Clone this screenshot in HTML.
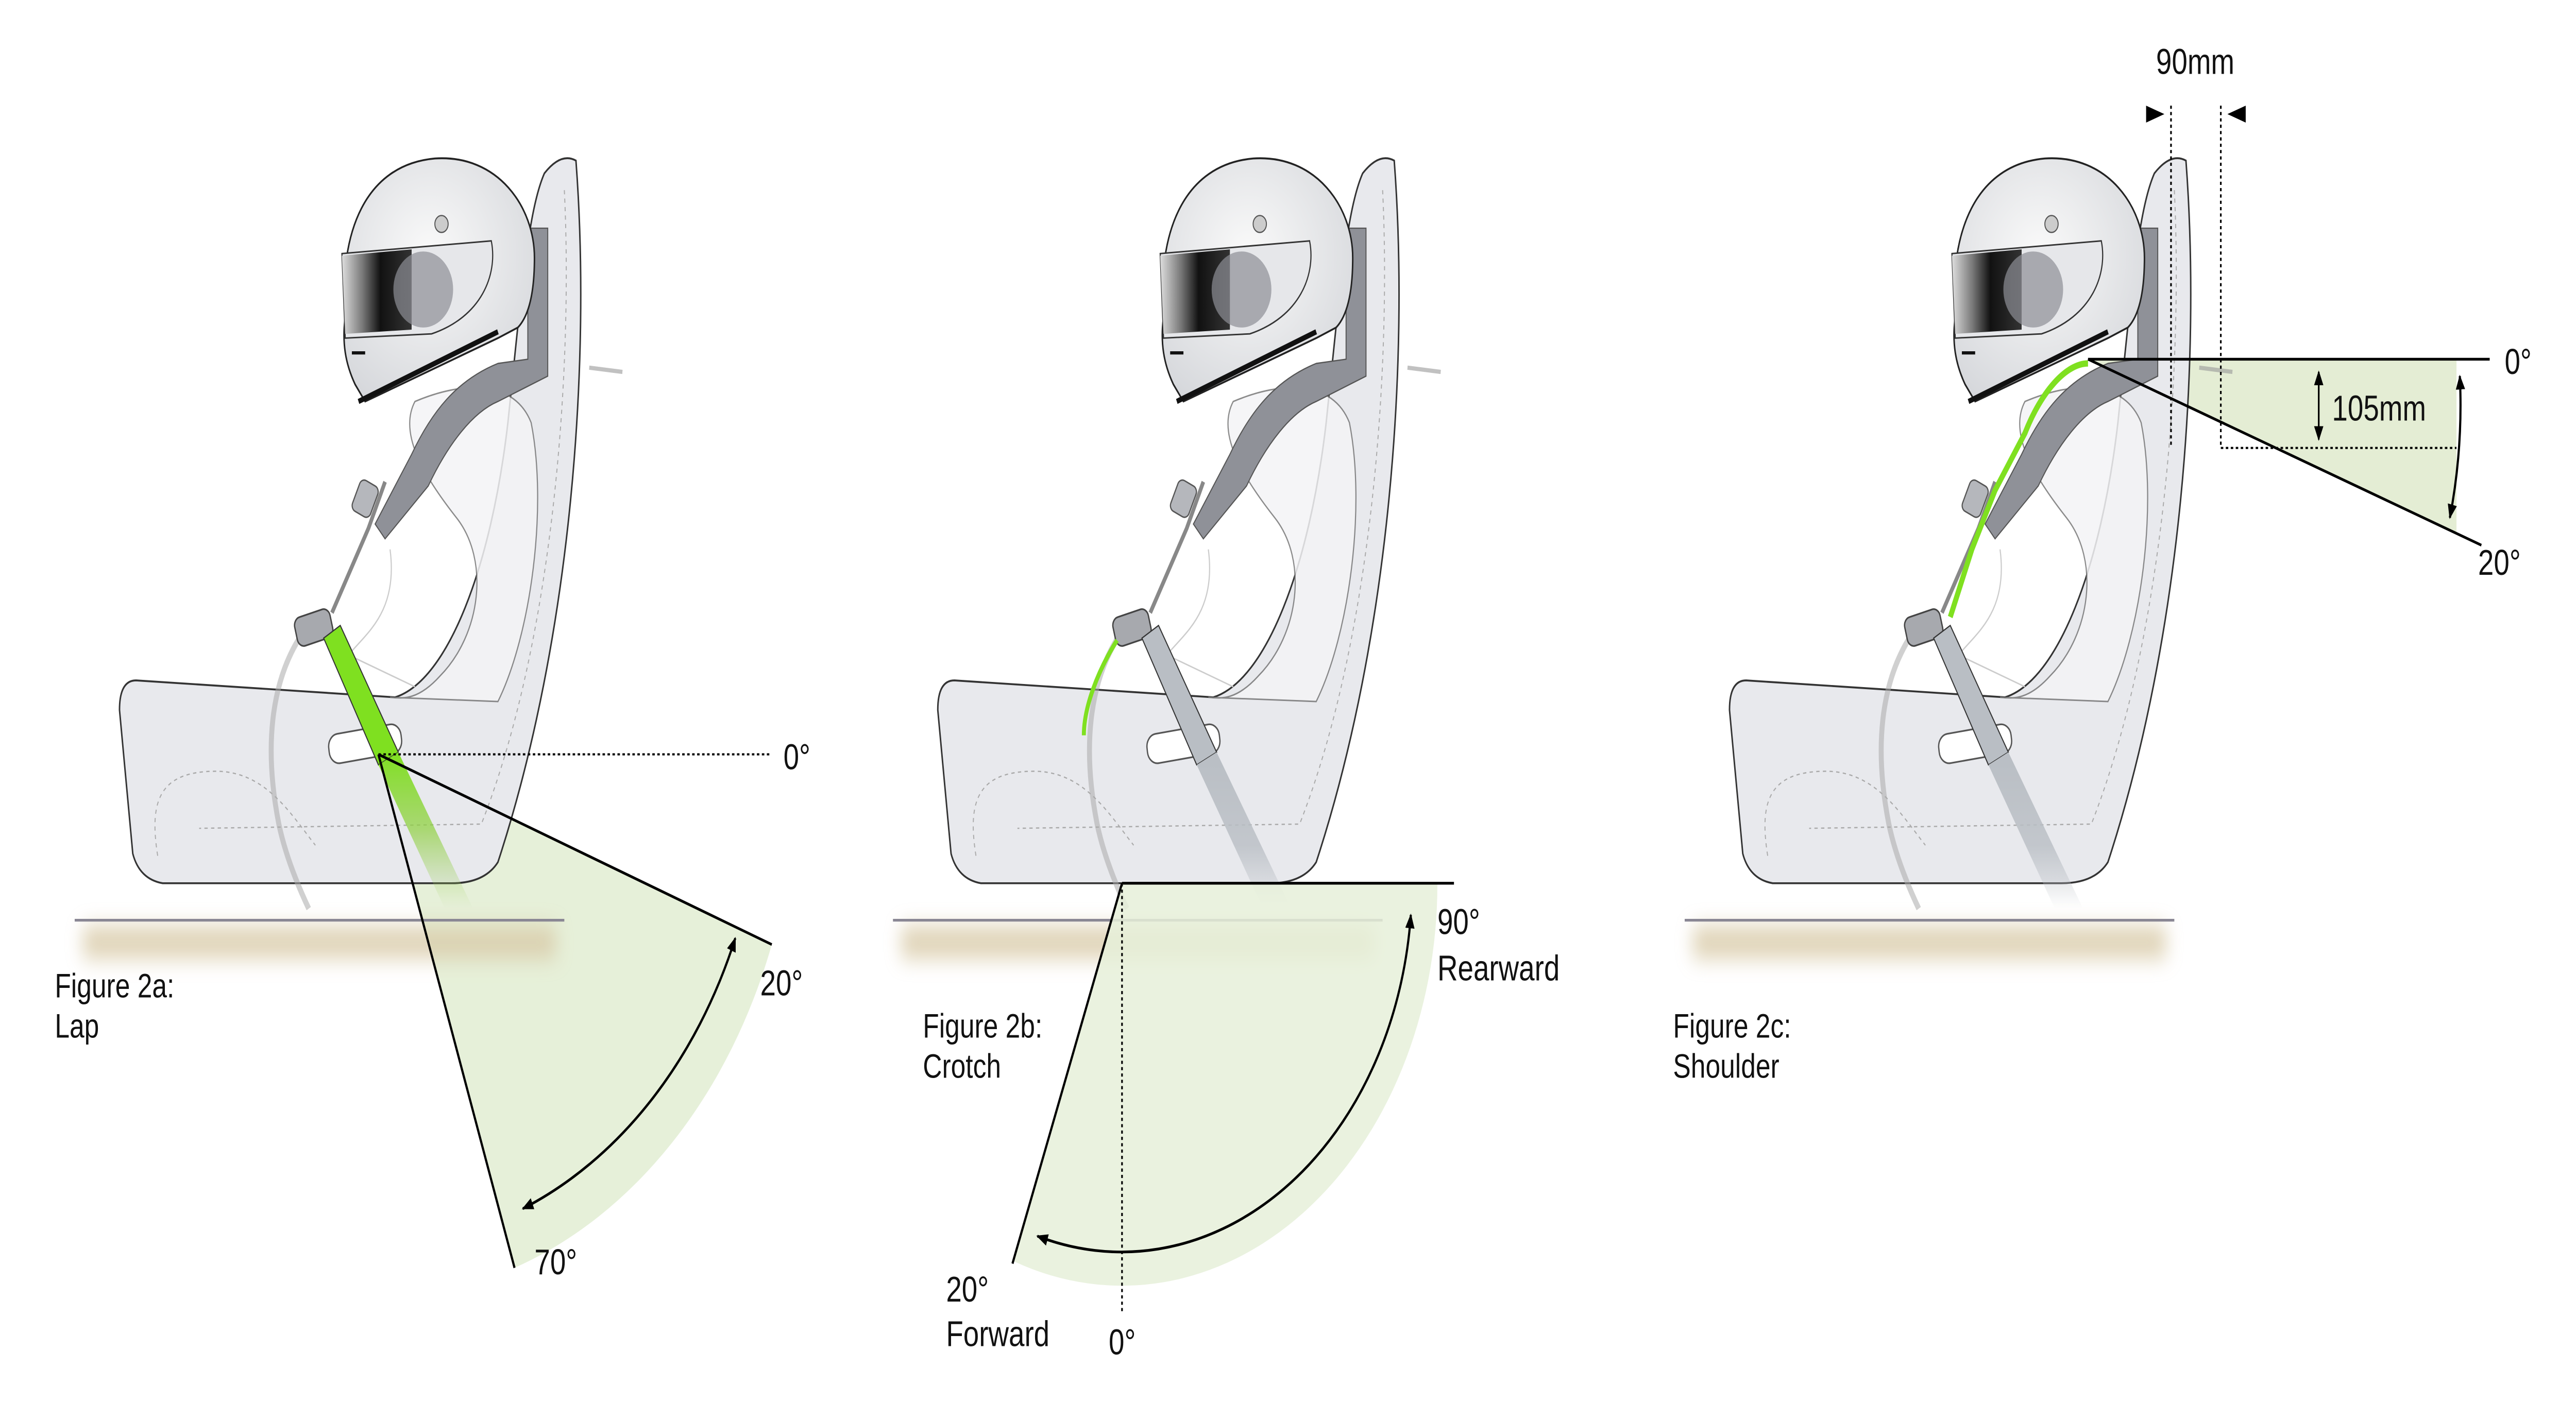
<!DOCTYPE html>
<html><head><meta charset="utf-8"><style>
html,body{margin:0;padding:0;background:#fff;width:100%;height:100%;overflow:hidden;}
svg{display:block;width:100vw;height:100vh;}
text{font-family:"Liberation Sans Narrow","Liberation Sans",sans-serif;fill:#111;}
</style></head><body>
<svg viewBox="0 0 1552 663.5" preserveAspectRatio="none" xmlns="http://www.w3.org/2000/svg">
<defs>
<marker id="ah" viewBox="0 0 10 10" refX="9" refY="5" markerWidth="7" markerHeight="7" orient="auto-start-reverse" markerUnits="userSpaceOnUse">
<path d="M0,1 L10,5 L0,9 Z" fill="#000"/></marker>
<linearGradient id="visor" x1="0" x2="1" y1="0" y2="0">
<stop offset="0" stop-color="#ddd"/><stop offset="0.3" stop-color="#777"/><stop offset="0.55" stop-color="#111"/><stop offset="1" stop-color="#333"/></linearGradient>
<radialGradient id="helm" cx="0.45" cy="0.4" r="0.7"><stop offset="0" stop-color="#fafafa"/><stop offset="1" stop-color="#d4d6da"/></radialGradient>
<linearGradient id="fadeGreen" x1="0" y1="0" x2="0" y2="1"><stop offset="0" stop-color="#7fe020"/><stop offset="0.5" stop-color="#8fd040" stop-opacity="0.7"/><stop offset="1" stop-color="#9fcf60" stop-opacity="0"/></linearGradient>
<linearGradient id="fadeGray" x1="0" y1="0" x2="0" y2="1"><stop offset="0" stop-color="#b9bec4"/><stop offset="0.6" stop-color="#b9bec4" stop-opacity="0.8"/><stop offset="1" stop-color="#b9bec4" stop-opacity="0"/></linearGradient>
<filter id="blur" x="-20%" y="-100%" width="140%" height="300%"><feGaussianBlur stdDeviation="5"/></filter>

<g id="base">
  <rect x="50" y="438" width="285" height="16" fill="#d9cba9" filter="url(#blur)" opacity="0.8"/>
  <line x1="45" y1="435.5" x2="340" y2="435.5" stroke="#8a8794" stroke-width="1.3"/>
  <path d="M82,322 L238,330 C270,322 296,268 306,200 C314,140 318,100 328,82 Q338,72 347,76 C356,170 345,300 300,408 Q292,418 272,418 L98,418 Q84,416 80,404 L72,336 Q72,322 82,322 Z" fill="#e8e9ed" stroke="#333" stroke-width="0.9"/>
  <path d="M340,90 C345,170 335,300 290,390 L120,392" fill="none" stroke="#aaa" stroke-width="0.6" stroke-dasharray="2,2"/>
  <path d="M95,405 C90,380 95,365 130,365 C160,365 175,385 190,400" fill="none" stroke="#aaa" stroke-width="0.6" stroke-dasharray="2,2"/>
  <path d="M250,190 C240,205 255,225 275,245 C295,265 290,300 265,320 C250,333 240,330 235,330 L300,332 C320,300 330,240 320,200 C310,180 280,180 250,190 Z" fill="#f4f4f6" stroke="#777" stroke-width="0.7" opacity="0.85"/>
  <path d="M235,260 C240,290 220,300 210,310 L250,325" fill="none" stroke="#ccc" stroke-width="0.7"/>
  <path d="M318,108 L330,108 L330,178 L300,190 C285,195 270,210 258,230 L232,255 L226,248 L248,215 C260,195 275,180 300,172 L318,170 Z" fill="#8f9198" stroke="#555" stroke-width="0.6"/>
  <path d="M355,174 L375,176" stroke="#999" stroke-width="2" opacity="0.6"/>
  <path d="M232,228 L222,250 L200,290" fill="none" stroke="#888" stroke-width="2.2"/>
  <rect x="214" y="228" width="12" height="16" rx="3" fill="#b5b7bc" stroke="#555" stroke-width="0.7" transform="rotate(25 220 236)"/>
  <path d="M182,300 C165,320 158,350 168,390 C172,405 180,420 186,430" fill="none" stroke="#aaa" stroke-width="3" opacity="0.55"/>
  <rect x="178" y="290" width="22" height="14" rx="4" fill="#a7a9ae" stroke="#444" stroke-width="0.8" transform="rotate(-15 189 297)"/>
  <rect x="198" y="345" width="44" height="14" rx="6" fill="#fff" stroke="#555" stroke-width="0.8" transform="rotate(-8 220 352)"/>
  <path d="M208,150 C204,110 220,78 262,75 C300,73 322,98 322,122 C322,140 318,150 312,155 L300,160 L220,190 L214,182 C208,172 206,162 208,150 Z" fill="url(#helm)" stroke="#222" stroke-width="0.9"/>
  <path d="M206,120 L296,114 C300,130 290,150 260,158 L208,160 Z" fill="#e6e7ea" stroke="#333" stroke-width="0.7"/>
  <path d="M206,121 L248,118 L248,156 L208,158 Z" fill="url(#visor)"/>
  <ellipse cx="255" cy="137" rx="18" ry="18" fill="#8d8f95" opacity="0.7"/>
  <circle cx="266" cy="106" r="4" fill="#ccc" stroke="#555" stroke-width="0.6"/>
  <path d="M216,190 L300,157" stroke="#111" stroke-width="2.5"/>
  <path d="M212,167 L220,167" stroke="#111" stroke-width="1.5"/>
</g>
</defs>

<!-- ===== Figure 2a ===== -->
<path d="M228,357 L465,447 A254,254 0 0,1 310,600 Z" fill="#e6f0d9"/>
<use href="#base"/>
<path d="M195,302 L205,296 L240,356 L228,362 Z" fill="#7fe020" stroke="#333" stroke-width="0.6"/>
<path d="M228,362 L240,356 L285,430 L268,430 Z" fill="url(#fadeGreen)"/>
<line x1="228" y1="357" x2="465" y2="357" stroke="#000" stroke-width="1" stroke-dasharray="1.5,1.5"/>
<line x1="228" y1="357" x2="465" y2="447" stroke="#000" stroke-width="1.3"/>
<line x1="228" y1="357" x2="310" y2="600" stroke="#000" stroke-width="1.3"/>
<path d="M443,444 A232,232 0 0,1 315,572" fill="none" stroke="#000" stroke-width="1.3" marker-start="url(#ah)" marker-end="url(#ah)"/>
<text x="472" y="364" font-size="17">0°</text>
<text x="458" y="471" font-size="17">20°</text>
<text x="322" y="603" font-size="17">70°</text>
<text x="33" y="472" font-size="16">Figure 2a:</text>
<text x="33" y="491" font-size="16">Lap</text>

<!-- ===== Figure 2b ===== -->
<g transform="translate(493,0)">
  <use href="#base"/>
  <path d="M195,302 L205,296 L240,356 L228,362 Z" fill="#b9bec4" stroke="#333" stroke-width="0.6"/>
  <path d="M228,362 L240,356 L285,430 L268,430 Z" fill="url(#fadeGray)"/>
  <path d="M180,303 C168,318 160,335 160,348" fill="none" stroke="#7fe020" stroke-width="2.4"/>
</g>
<path d="M676,418 L866,418 A190,190 0 0,1 611,597 Z" fill="#e6f0d9" opacity="0.85"/>
<line x1="676" y1="418" x2="876" y2="418" stroke="#000" stroke-width="1.3"/>
<line x1="676" y1="418" x2="610" y2="598" stroke="#000" stroke-width="1.3"/>
<line x1="676" y1="418" x2="676" y2="622" stroke="#000" stroke-width="1" stroke-dasharray="1.5,1.5"/>
<path d="M850,433 A175,175 0 0,1 625,585" fill="none" stroke="#000" stroke-width="1.3" marker-start="url(#ah)" marker-end="url(#ah)"/>
<text x="866" y="442" font-size="17">90°</text>
<text x="866" y="464" font-size="17">Rearward</text>
<text x="570" y="616" font-size="17">20°</text>
<text x="570" y="637" font-size="17">Forward</text>
<text x="668" y="641" font-size="17">0°</text>
<text x="556" y="491" font-size="16">Figure 2b:</text>
<text x="556" y="510" font-size="16">Crotch</text>

<!-- ===== Figure 2c ===== -->
<path d="M1258,170 L1480,170 L1480,252 Z" fill="#dfeacc" opacity="0.85"/>
<g transform="translate(970,0)">
  <use href="#base"/>
  <path d="M195,302 L205,296 L240,356 L228,362 Z" fill="#b9bec4" stroke="#333" stroke-width="0.6"/>
  <path d="M228,362 L240,356 L285,430 L268,430 Z" fill="url(#fadeGray)"/>
  <path d="M288,172 C275,172 260,185 250,205 L232,232 L218,260 L205,292" fill="none" stroke="#7fe020" stroke-width="3" stroke-linejoin="round"/>
</g>
<line x1="1258" y1="170" x2="1500" y2="170" stroke="#000" stroke-width="1.3"/>
<line x1="1258" y1="170" x2="1495" y2="258" stroke="#000" stroke-width="1.3"/>
<path d="M1482,178 A225,225 0 0,1 1476,245" fill="none" stroke="#000" stroke-width="1.3" marker-start="url(#ah)" marker-end="url(#ah)"/>
<line x1="1308" y1="50" x2="1308" y2="212" stroke="#000" stroke-width="1" stroke-dasharray="1.5,1.5"/>
<line x1="1338" y1="50" x2="1338" y2="212" stroke="#000" stroke-width="1" stroke-dasharray="1.5,1.5"/>
<line x1="1338" y1="212" x2="1480" y2="212" stroke="#000" stroke-width="1" stroke-dasharray="1.5,1.5"/>
<path d="M1293,50 L1304,54 L1293,58 Z" fill="#000"/>
<path d="M1353,50 L1342,54 L1353,58 Z" fill="#000"/>
<path d="M1397,176 L1397,208" stroke="#000" stroke-width="1" marker-start="url(#ah)" marker-end="url(#ah)"/>
<text x="1299" y="35" font-size="17">90mm</text>
<text x="1405" y="199" font-size="17">105mm</text>
<text x="1509" y="177" font-size="17">0°</text>
<text x="1493" y="272" font-size="17">20°</text>
<text x="1008" y="491" font-size="16">Figure 2c:</text>
<text x="1008" y="510" font-size="16">Shoulder</text>
</svg>
</body></html>
